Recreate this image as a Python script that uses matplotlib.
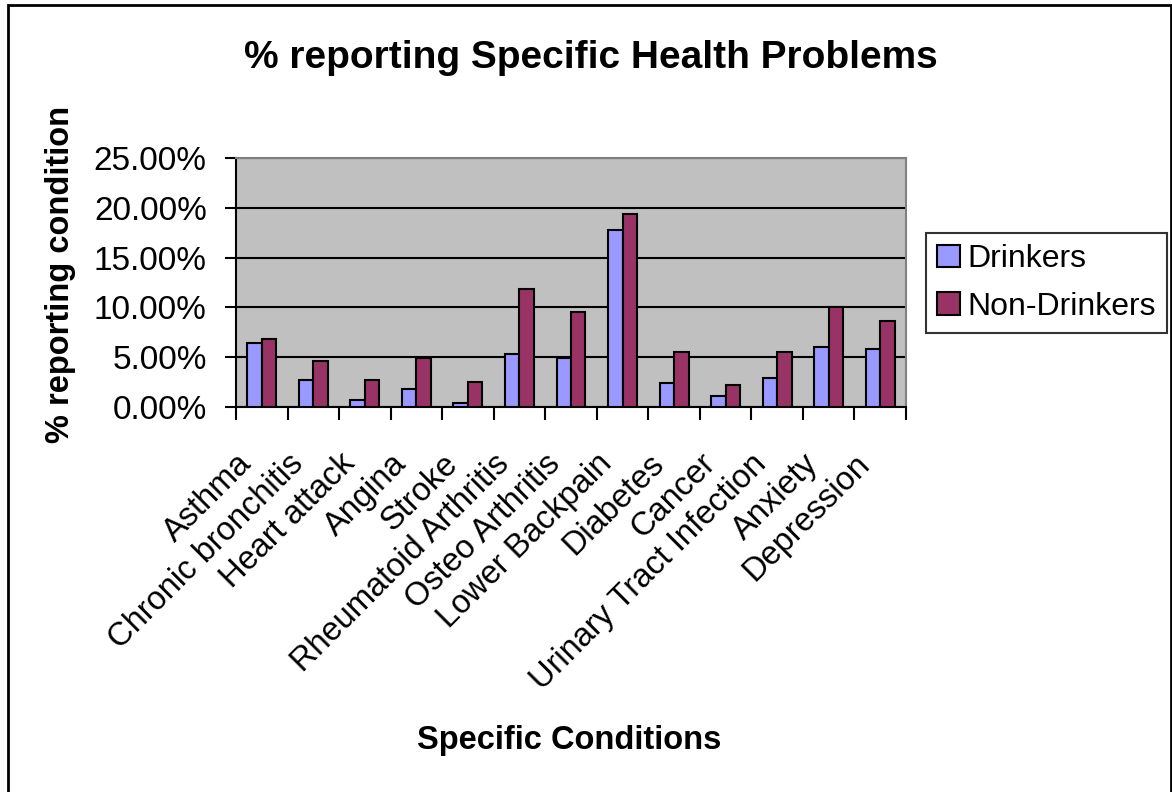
import matplotlib
matplotlib.use("Agg")
import matplotlib.pyplot as plt
from matplotlib.patches import Rectangle
from matplotlib.ticker import FuncFormatter, MultipleLocator
import numpy as np

conditions = ["Asthma", "Chronic bronchitis", "Heart attack", "Angina", "Stroke",
              "Rheumatoid Arthritis", "Osteo Arthritis", "Lower Backpain", "Diabetes",
              "Cancer", "Urinary Tract Infection", "Anxiety", "Depression"]
drinkers = [6.47, 2.72, 0.70, 1.81, 0.43, 5.36, 4.90, 17.8, 2.45, 1.10, 2.88, 6.00, 5.80]
non_drinkers = [6.87, 4.66, 2.72, 4.90, 2.48, 11.8, 9.56, 19.39, 5.57, 2.21, 5.57, 10.03, 8.68]
series_names = ["Drinkers", "Non-Drinkers"]

plt.rcParams["font.family"] = ["Liberation Sans", "DejaVu Sans"]

W, H = 1172, 792
fig = plt.figure(figsize=(W / 100, H / 100), dpi=100)
fig.patch.set_facecolor("white")

# outer frame of the chart
fig.add_artist(Rectangle((8 / W, -0.01), (1171 - 8) / W, 1.01 - 5 / H,
                         transform=fig.transFigure, fill=False,
                         edgecolor="black", linewidth=2.0))

ax = fig.add_axes([236 / W, 1 - 407 / H, (906 - 236) / W, (407 - 158) / H])
ax.set_facecolor("#C0C0C0")

x = np.arange(len(conditions))
bw = 0.28
ax.bar(x - bw / 2, drinkers, bw, color="#9999FF", edgecolor="black",
       linewidth=1.5, label=series_names[0], zorder=3)
ax.bar(x + bw / 2, non_drinkers, bw, color="#993366", edgecolor="black",
       linewidth=1.5, label=series_names[1], zorder=3)

ax.set_xlim(-0.5, len(conditions) - 0.5)
ax.set_ylim(0, 25)
ax.yaxis.set_major_locator(MultipleLocator(5))
ax.yaxis.set_major_formatter(FuncFormatter(lambda v, p: f"{v:.2f}%"))
ax.grid(axis="y", color="black", linewidth=1.5, zorder=1)
ax.set_axisbelow(True)

# category boundary ticks on x
ax.set_xticks(np.arange(-0.5, len(conditions) + 0.5, 1.0))
ax.set_xticklabels([])
ax.tick_params(axis="x", length=9, width=1.5, direction="out", color="black")
ax.tick_params(axis="y", length=8, width=1.5, direction="out", color="black",
               labelsize=24, pad=13)

for side in ("top", "right"):
    ax.spines[side].set_color("#808080")
    ax.spines[side].set_linewidth(1.5)
for side in ("left", "bottom"):
    ax.spines[side].set_color("black")
    ax.spines[side].set_linewidth(1.5)

# rotated category labels, right end anchored under each category
for i, name in enumerate(conditions):
    ax.annotate(name, xy=(i, 0), xycoords=("data", "axes fraction"),
                xytext=(-15, -52), textcoords="offset pixels",
                rotation=45, rotation_mode="anchor", ha="right", va="center",
                fontsize=23.5)

fig.text(591 / W, 1 - 58 / H, "% reporting Specific Health Problems",
         ha="center", va="center", fontsize=28, fontweight="bold")
fig.text(61 / W, 1 - 274 / H, "% reporting condition", rotation=90,
         ha="center", va="center", fontsize=23.5, fontweight="bold")
fig.text(569 / W, 1 - 740 / H, "Specific Conditions",
         ha="center", va="center", fontsize=23.5, fontweight="bold")

leg = ax.legend(loc="center left", bbox_to_anchor=(926 / W, 1 - 283 / H),
                bbox_transform=fig.transFigure, fontsize=23, frameon=True,
                fancybox=False, edgecolor="black", handlelength=0.7,
                handleheight=0.7, handletextpad=0.25, borderpad=0.35,
                labelspacing=0.55, borderaxespad=0)
leg.get_frame().set_linewidth(1.5)

fig.savefig("out.png", dpi=100, facecolor="white")
